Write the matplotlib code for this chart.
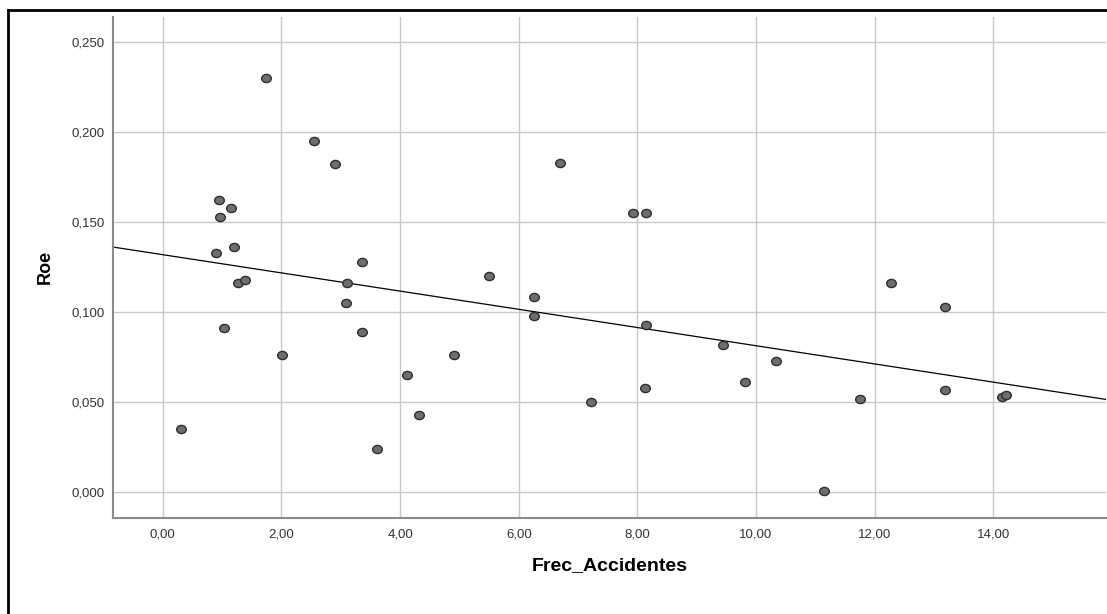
import numpy as np
import matplotlib
matplotlib.use("Agg")
import matplotlib.pyplot as plt
from matplotlib.lines import Line2D
from matplotlib.path import Path
from matplotlib.ticker import FuncFormatter

plt.rcParams["font.family"] = ["Liberation Sans", "DejaVu Sans"]

# accident frequency vs. return on equity, one point per case
frec_accidentes = [0.31, 0.89, 0.95, 0.96, 1.03, 1.15, 1.20, 1.26, 1.39, 1.74,
                   2.01, 2.55, 2.91, 3.08, 3.11, 3.36, 3.36, 3.61, 4.11, 4.31,
                   4.91, 5.49, 6.26, 6.26, 6.70, 7.22, 7.92, 8.14, 8.12, 8.14,
                   9.44, 9.81, 10.33, 11.14, 11.76, 12.27, 13.18, 13.18, 14.15, 14.22]
roe = [0.035, 0.133, 0.162, 0.153, 0.091, 0.158, 0.136, 0.116, 0.118, 0.230,
       0.076, 0.195, 0.182, 0.105, 0.116, 0.128, 0.089, 0.024, 0.065, 0.043,
       0.076, 0.120, 0.1085, 0.098, 0.183, 0.050, 0.155, 0.155, 0.058, 0.093,
       0.082, 0.061, 0.073, 0.001, 0.052, 0.116, 0.103, 0.057, 0.053, 0.054]

x_ticks = [0, 2, 4, 6, 8, 10, 12, 14]
y_ticks = [0.0, 0.05, 0.10, 0.15, 0.20, 0.25]
x_range = (-0.84, 15.9)
y_range = (-0.0141, 0.2638)

fig = plt.figure(figsize=(11.07, 6.14), dpi=100)
ax = fig.add_axes([0.1021, 0.1568, 0.8970, 0.8155])

# least-squares fit line across the full x range
slope, intercept = np.polyfit(frec_accidentes, roe, 1)
xs = np.array(x_range)
ax.plot(xs, intercept + slope * xs, color="black", linewidth=0.9, zorder=2)

# slightly wide oval dot marker
circ = Path.unit_circle()
oval = Path(circ.vertices * [1.18, 1.0], circ.codes)
ax.scatter(frec_accidentes, roe, s=48, marker=oval, facecolor="#6e6e6e",
           edgecolor="#2e2e2e", linewidth=1.0, zorder=3)

ax.set_xlim(*x_range)
ax.set_ylim(*y_range)
ax.set_xticks(x_ticks)
ax.set_yticks(y_ticks)
ax.xaxis.set_major_formatter(FuncFormatter(lambda v, p: f"{v:.2f}".replace(".", ",")))
ax.yaxis.set_major_formatter(FuncFormatter(lambda v, p: f"{v:.3f}".replace(".", ",")))
ax.tick_params(length=0, labelsize=9.5, labelcolor="#333333")
ax.tick_params(axis="y", pad=6)
ax.tick_params(axis="x", pad=8)
ax.grid(color="#c8c8c8", linewidth=1.0, zorder=0)
ax.set_axisbelow(True)

for side in ("top", "right"):
    ax.spines[side].set_visible(False)
for side in ("left", "bottom"):
    ax.spines[side].set_color("#8a8a8a")
    ax.spines[side].set_linewidth(1.5)

ax.set_xlabel("Frec_Accidentes", fontsize=14, fontweight="bold", labelpad=12)
ax.set_ylabel("Roe", fontsize=13, fontweight="bold", labelpad=13)

# outer frame (top and left edges)
W, H = 1107, 614
fig.add_artist(Line2D([8 / W, 1.0], [1 - 10 / H, 1 - 10 / H], color="black",
                      linewidth=2.0, transform=fig.transFigure))
fig.add_artist(Line2D([8 / W, 8 / W], [1 - 10 / H, 0.0], color="black",
                      linewidth=2.0, transform=fig.transFigure))

fig.savefig("out.png", dpi=100)
